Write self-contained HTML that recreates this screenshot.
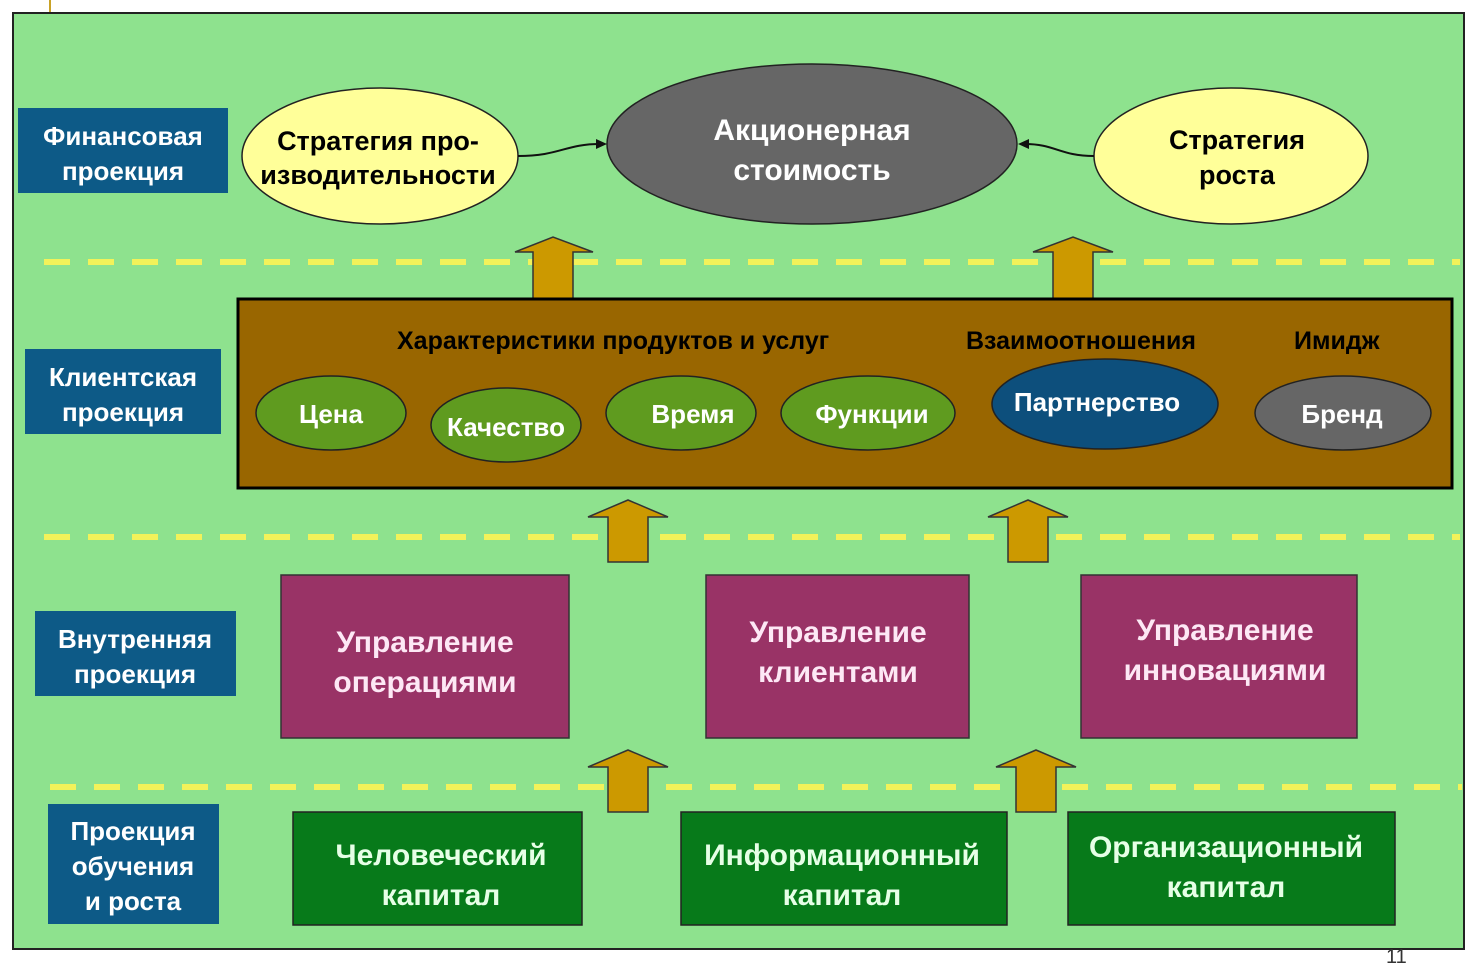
<!DOCTYPE html>
<html><head><meta charset="utf-8"><style>
html,body{margin:0;padding:0;background:#fff;}
svg{display:block;}
text{font-family:"Liberation Sans",Arial,sans-serif;font-weight:bold;}
</style></head><body>
<svg width="1476" height="969" viewBox="0 0 1476 969" xmlns="http://www.w3.org/2000/svg">
<rect x="0" y="0" width="1476" height="969" fill="#fff"/>
<line x1="50" y1="0" x2="50" y2="12" stroke="#c9a227" stroke-width="2"/>
<rect x="13" y="13" width="1451" height="936" fill="#8ee28e" stroke="#222" stroke-width="2"/>
<g stroke="#f2f25a" stroke-width="6" stroke-dasharray="26,18">
<line x1="44" y1="262" x2="1460" y2="262"/>
<line x1="44" y1="537" x2="1460" y2="537"/>
<line x1="50" y1="787" x2="1462" y2="787"/>
</g>
<text x="1386" y="963" font-size="20" font-weight="normal" fill="#333" style="font-weight:normal">11</text>
<!-- label boxes -->
<g fill="#0d5a87">
<rect x="18" y="108" width="210" height="85"/>
<rect x="25" y="349" width="196" height="85"/>
<rect x="35" y="611" width="201" height="85"/>
<rect x="48" y="804" width="171" height="120"/>
</g>
<g fill="#fff" font-size="26" text-anchor="middle">
<text x="123" y="145">Финансовая</text><text x="123" y="180">проекция</text>
<text x="123" y="386">Клиентская</text><text x="123" y="421">проекция</text>
<text x="135" y="648">Внутренняя</text><text x="135" y="683">проекция</text>
<text x="133" y="840">Проекция</text><text x="133" y="875">обучения</text><text x="133" y="910">и роста</text>
</g>
<!-- top ellipses -->
<ellipse cx="380" cy="156" rx="138" ry="68" fill="#ffff99" stroke="#222" stroke-width="1.5"/>
<ellipse cx="812" cy="144" rx="205" ry="80" fill="#666" stroke="#222" stroke-width="1.5"/>
<ellipse cx="1231" cy="156" rx="137" ry="68" fill="#ffff99" stroke="#222" stroke-width="1.5"/>
<path d="M518 156 C560 156 565 144 600 144" fill="none" stroke="#111" stroke-width="2"/>
<polygon points="607,144 596,139 596,149" fill="#111"/>
<path d="M1094 156 C1060 156 1055 144 1025 144" fill="none" stroke="#111" stroke-width="2"/>
<polygon points="1018,144 1029,139 1029,149" fill="#111"/>
<g font-size="27" text-anchor="middle" fill="#000">
<text x="378" y="150">Стратегия про-</text><text x="378" y="184">изводительности</text>
<text x="1237" y="149">Стратегия</text><text x="1237" y="184">роста</text>
</g>
<g font-size="30" text-anchor="middle" fill="#fff">
<text x="812" y="140">Акционерная</text><text x="812" y="180">стоимость</text>
</g>
<!-- arrows -->
<g fill="#cc9900" stroke="#333" stroke-width="1.5">
<polygon points="533,299 533,252 515,252 553,237 593,252 573,252 573,299"/>
<polygon points="1053,299 1053,252 1033,252 1073,237 1113,252 1093,252 1093,299"/>
<polygon points="608,562 608,517 588,517 628,500 668,517 648,517 648,562"/>
<polygon points="1008,562 1008,517 988,517 1028,500 1068,517 1048,517 1048,562"/>
<polygon points="608,812 608,767 588,767 628,750 668,767 648,767 648,812"/>
<polygon points="1016,812 1016,767 996,767 1036,750 1076,767 1056,767 1056,812"/>
</g>
<!-- brown box -->
<rect x="238" y="299" width="1214" height="189" fill="#996600" stroke="#000" stroke-width="3"/>
<g font-size="25" fill="#000">
<text x="397" y="349">Характеристики продуктов и услуг</text>
<text x="966" y="349">Взаимоотношения</text>
<text x="1294" y="349">Имидж</text>
</g>
<g stroke="#222" stroke-width="1.5">
<ellipse cx="331" cy="413" rx="75" ry="37" fill="#5f9b1f"/>
<ellipse cx="506" cy="425" rx="75" ry="37" fill="#5f9b1f"/>
<ellipse cx="681" cy="413" rx="75" ry="37" fill="#5f9b1f"/>
<ellipse cx="868" cy="413" rx="87" ry="37" fill="#5f9b1f"/>
<ellipse cx="1105" cy="404" rx="113" ry="45" fill="#0d4f7c"/>
<ellipse cx="1343" cy="413" rx="88" ry="37" fill="#666"/>
</g>
<g font-size="26" fill="#fff" text-anchor="middle">
<text x="331" y="423">Цена</text>
<text x="506" y="436">Качество</text>
<text x="693" y="423">Время</text>
<text x="872" y="423">Функции</text>
<text x="1097" y="411">Партнерство</text>
<text x="1342" y="423">Бренд</text>
</g>
<!-- purple boxes -->
<g fill="#993366" stroke="#333" stroke-width="1.5">
<rect x="281" y="575" width="288" height="163"/>
<rect x="706" y="575" width="263" height="163"/>
<rect x="1081" y="575" width="276" height="163"/>
</g>
<g font-size="30" fill="#fde8f5" text-anchor="middle">
<text x="425" y="652">Управление</text><text x="425" y="692">операциями</text>
<text x="838" y="642">Управление</text><text x="838" y="682">клиентами</text>
<text x="1225" y="640">Управление</text><text x="1225" y="680">инновациями</text>
</g>
<!-- green boxes -->
<g fill="#077a1a" stroke="#222" stroke-width="1.5">
<rect x="293" y="812" width="289" height="113"/>
<rect x="681" y="812" width="326" height="113"/>
<rect x="1068" y="812" width="327" height="113"/>
</g>
<g font-size="30" fill="#e6ffe6" text-anchor="middle">
<text x="441" y="865">Человеческий</text><text x="441" y="905">капитал</text>
<text x="842" y="865">Информационный</text><text x="842" y="905">капитал</text>
<text x="1226" y="857">Организационный</text><text x="1226" y="897">капитал</text>
</g>
</svg>
</body></html>
